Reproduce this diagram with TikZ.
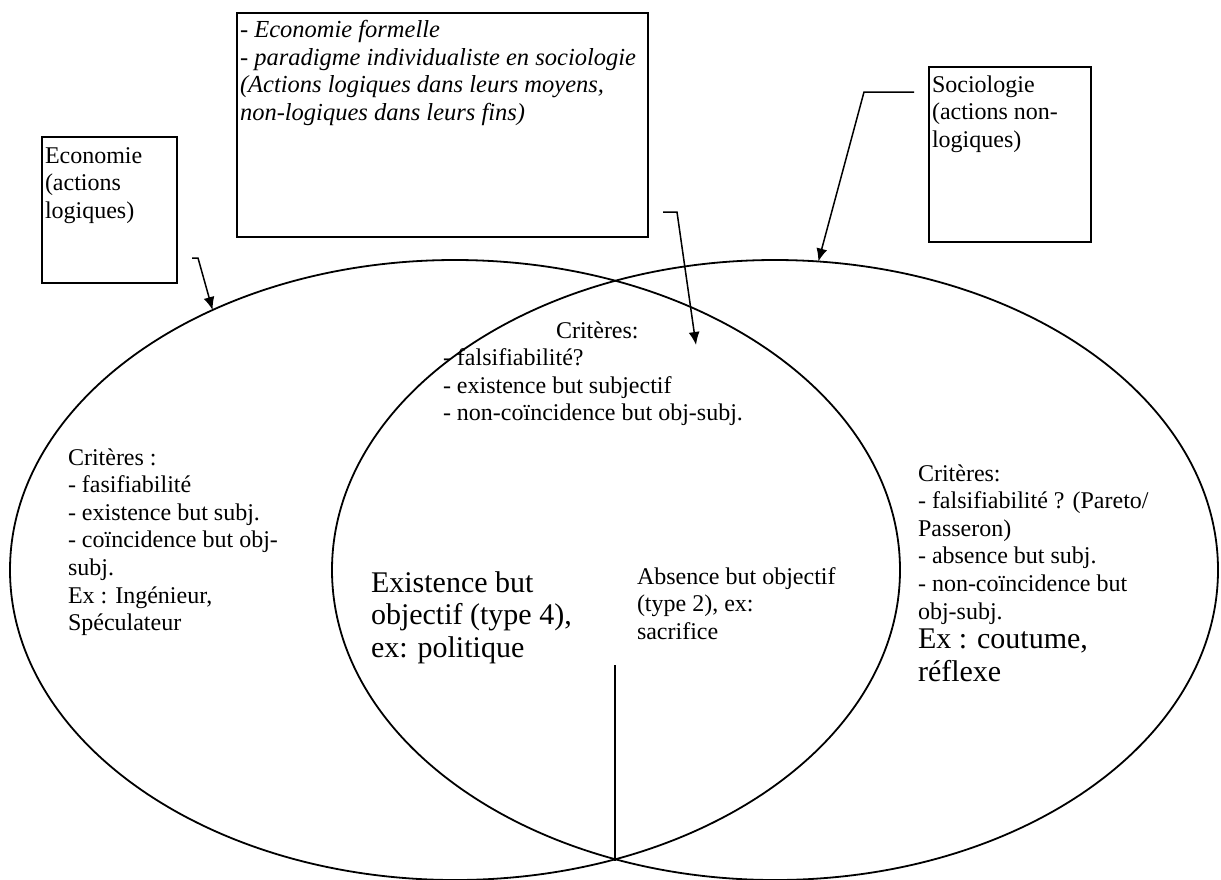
\documentclass[tikz,border=0pt]{standalone}
\usepackage{fontspec}
\setmainfont{Liberation Serif}
\usetikzlibrary{shapes.geometric,arrows.meta}
\begin{document}
\begin{tikzpicture}[x=1pt,y=-1pt,
  venn/.style={draw, ellipse, line width=1.8pt, inner sep=0, outer sep=0, minimum width=#1},
  box/.style={draw, rectangle, line width=1.8pt, inner sep=0, outer sep=0, anchor=north west},
  txt/.style={anchor=north west, inner sep=0, outer sep=0, align=left, font=\fontsize{24}{27.6}\selectfont},
  bigtxt/.style={anchor=north west, inner sep=0, outer sep=0, align=left, font=\fontsize{30}{32.5}\selectfont},
  itxt/.style={txt, font=\fontsize{24.5}{27.8}\selectfont\itshape},
  conn/.style={line width=1.5pt, -{Latex[length=13pt,width=11pt]}},
  divider/.style={line width=1.8pt}]
\useasboundingbox (0,0) rectangle (1221,879);
% ellipses
\node[venn=890pt, minimum height=620pt] (eL) at (455,570) {};
\node[venn=886pt, minimum height=620pt] (eR) at (775,570) {};
% boxes
\node[box, minimum width=135pt, minimum height=146pt] (ecoBox) at (42,137) {};
\node[box, minimum width=411pt, minimum height=224pt] (midBox) at (237,13) {};
\node[box, minimum width=162pt, minimum height=175pt] (socBox) at (929,67) {};
% box texts
\node[txt] (ecoTxt) at (45,143.7) {\strut Economie\\(actions\\logiques)};
\node[itxt] (midTxt) at (240,17.8) {\strut - Economie formelle\\- paradigme individualiste en sociologie\\(Actions logiques dans leurs moyens,\\non-logiques dans leurs fins)};
\node[txt] (socTxt) at (932,72.7) {\strut Sociologie\\(actions non-\\logiques)};
% connectors
\coordinate (ecoStart) at (192,258);
\coordinate (ecoBend) at (198,258);
\draw[conn] (ecoStart) -- (ecoBend) -- (eL.133.9);
\coordinate (midStart) at (663,212);
\coordinate (midBend) at (677,212);
\coordinate (midTip) at (696,345);
\draw[conn] (midStart) -- (midBend) -- (midTip);
\coordinate (socStart) at (914,92);
\coordinate (socBend) at (864,92);
\draw[conn] (socStart) -- (socBend) -- (eR.82.4);
% divider
\coordinate (divTop) at (615,665);
\coordinate (divBot) at (615,861);
\draw[divider] (divTop) -- (divBot);
% criteria texts
\node[txt] (midCrit) at (443,318.7) {\strut\hspace{113pt}Critères:\\- falsifiabilité?\\- existence but subjectif\\- non-coïncidence but obj-subj.};
\node[txt] (leftCrit) at (68,445.7) {\strut Critères :\\- fasifiabilité\\- existence but subj.\\- coïncidence but obj-\\subj.\\Ex : Ingénieur,\\Spéculateur};
\node[txt] (rightCrit) at (918,461.7) {\strut Critères:\\- falsifiabilité ? (Pareto/\\Passeron)\\- absence but subj.\\- non-coïncidence but\\obj-subj.};
\node[bigtxt] (rightEx) at (918,626) {\strut Ex : coutume,\\réflexe};
\node[bigtxt] (type4) at (371,569.3) {\strut Existence but\\objectif (type 4),\\ex: politique};
\node[txt] (type2) at (637,564.7) {\strut Absence but objectif\\(type 2), ex:\\sacrifice};
\end{tikzpicture}
\end{document}
